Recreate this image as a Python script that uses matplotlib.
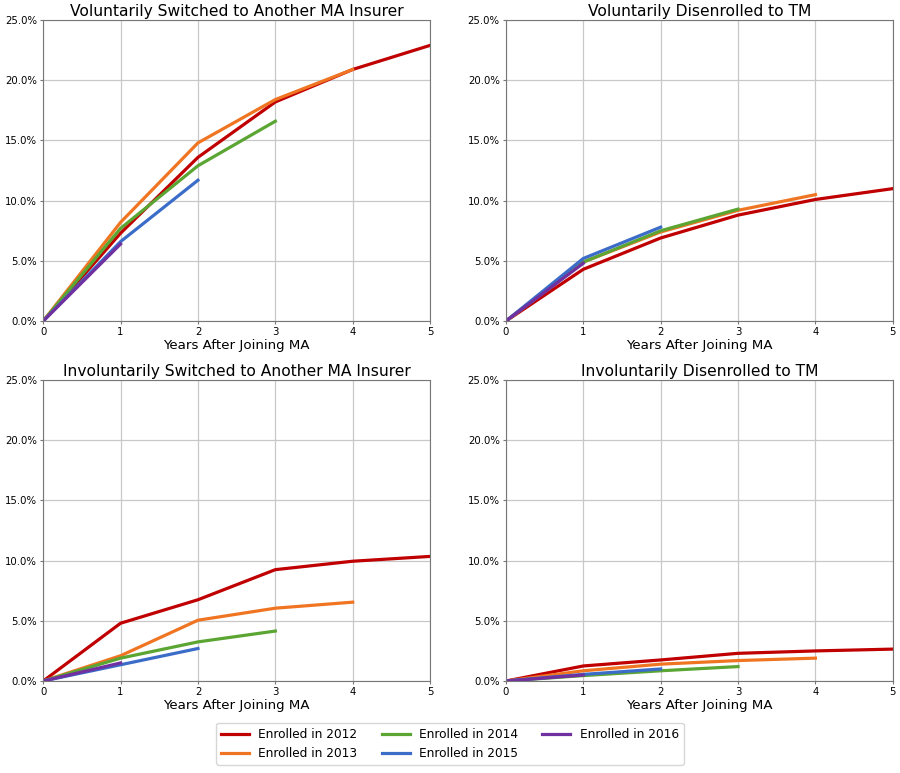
import matplotlib
matplotlib.use("Agg")
from matplotlib import pyplot as plt
from matplotlib.ticker import PercentFormatter

# years after joining MA
years = [0, 1, 2, 3, 4, 5]
cohorts = ["Enrolled in 2012", "Enrolled in 2013", "Enrolled in 2014", "Enrolled in 2015", "Enrolled in 2016"]
colors = ["#C00000", "#F07522", "#5BA532", "#3A6CC8", "#7030A0"]

titles = ["Voluntarily Switched to Another MA Insurer", "Voluntarily Disenrolled to TM",
          "Involuntarily Switched to Another MA Insurer", "Involuntarily Disenrolled to TM"]

# cumulative share (%) per cohort, each cohort has fewer follow-up years
vol_switch = [
    [0, 7.3, 13.6, 18.2, 20.9, 22.9],
    [0, 8.2, 14.8, 18.4, 20.9],
    [0, 7.7, 12.9, 16.6],
    [0, 6.6, 11.7],
    [0, 6.4],
]
vol_disenroll = [
    [0, 4.3, 6.9, 8.8, 10.1, 11.0],
    [0, 4.9, 7.4, 9.2, 10.5],
    [0, 4.9, 7.5, 9.3],
    [0, 5.2, 7.8],
    [0, 4.8],
]
invol_switch = [
    [0, 4.8, 6.75, 9.25, 9.95, 10.35],
    [0, 2.1, 5.05, 6.05, 6.55],
    [0, 1.9, 3.25, 4.15],
    [0, 1.35, 2.7],
    [0, 1.5],
]
invol_disenroll = [
    [0, 1.25, 1.75, 2.3, 2.5, 2.65],
    [0, 0.85, 1.4, 1.7, 1.9],
    [0, 0.45, 0.85, 1.2],
    [0, 0.55, 1.0],
    [0, 0.5],
]

def main():
    fig, axes = plt.subplots(2, 2, figsize=(9, 7.73), dpi=100)
    fig.subplots_adjust(left=0.048, right=0.992, top=0.974, bottom=0.119, wspace=0.196, hspace=0.196)

    panels = [vol_switch, vol_disenroll, invol_switch, invol_disenroll]
    for ax, title, panel in zip(axes.flat, titles, panels):
        for label, color, vals in zip(cohorts, colors, panel):
            ax.plot(years[:len(vals)], vals, color=color, linewidth=2.3, label=label)
        ax.set_title(title, fontsize=11.2, pad=3)
        ax.set_xlim(0, 5)
        ax.set_ylim(0, 25)
        ax.set_yticks([0, 5, 10, 15, 20, 25])
        ax.yaxis.set_major_formatter(PercentFormatter(decimals=1))
        ax.tick_params(labelsize=7.3, length=2.5, pad=2, color="#777777")
        ax.set_xlabel("Years After Joining MA", fontsize=9.6, labelpad=1)
        ax.grid(True, color="#c8c8c8", linewidth=0.9)
        for spine in ax.spines.values():
            spine.set_color("#777777")

    handles, labels = axes[0, 0].get_legend_handles_labels()
    fig.legend(handles, labels, loc="lower center", ncol=3, fontsize=8.7,
               bbox_to_anchor=(0.5, 0.003), handlelength=2.3, columnspacing=2.0)

    fig.savefig("out.png", dpi=100)
    plt.close()

if __name__ == '__main__':
    main()
